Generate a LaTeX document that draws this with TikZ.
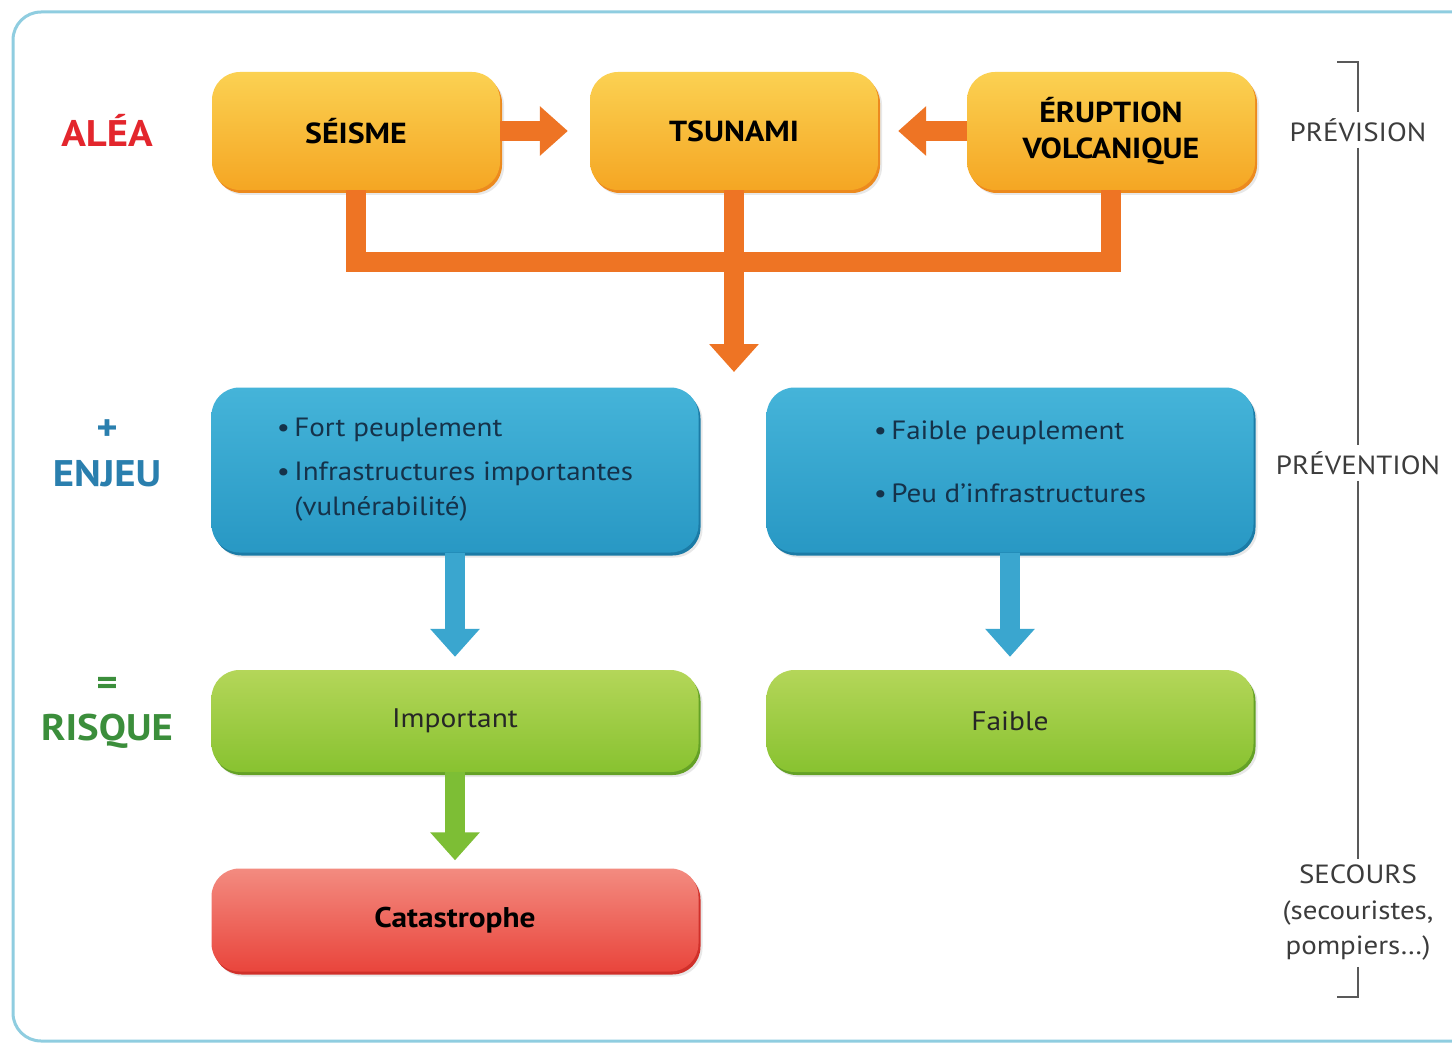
\documentclass[tikz,border=0pt]{standalone}
\usepackage{fontspec}
\setmainfont{PT Sans}[FakeStretch=1.1]
\usetikzlibrary{arrows.meta,shadows}
\definecolor{oTop}{HTML}{FBD152}
\definecolor{oBot}{HTML}{F5A623}
\definecolor{oEdge}{HTML}{EC8A1E}
\definecolor{oArr}{HTML}{EE7424}
\definecolor{bTop}{HTML}{45B4D9}
\definecolor{bBot}{HTML}{2898C4}
\definecolor{bEdge}{HTML}{1B7BA6}
\definecolor{bArr}{HTML}{3AA6CF}
\definecolor{gTop}{HTML}{B4D659}
\definecolor{gBot}{HTML}{88C230}
\definecolor{gEdge}{HTML}{64A126}
\definecolor{gArr}{HTML}{7DBE35}
\definecolor{rTop}{HTML}{F38B80}
\definecolor{rBot}{HTML}{E9453C}
\definecolor{rEdge}{HTML}{D0302A}
\definecolor{frameC}{HTML}{8FCDE0}
\definecolor{aleaC}{HTML}{E3262D}
\definecolor{enjeuC}{HTML}{2A7FAE}
\definecolor{risqueC}{HTML}{3B8E3B}
\definecolor{grayT}{HTML}{3C3C3C}
\definecolor{navyT}{HTML}{15324A}
\begin{document}
\begin{tikzpicture}[x=1pt,y=-1pt,
  box/.style={rounded corners=28pt, inner sep=0pt, align=center,
    drop shadow={opacity=0.18, shadow xshift=4pt, shadow yshift=-5pt}},
  obox/.style={box, minimum width=288pt, minimum height=118pt,
    top color=oTop, bottom color=oBot,
    preaction={fill=oEdge, transform canvas={xshift=2pt,yshift=-3pt}},
    font=\bfseries\fontsize{29}{36}\selectfont, text=black},
  bbox/.style={box, minimum width=487pt, minimum height=165pt,
    top color=bTop, bottom color=bBot,
    preaction={fill=bEdge, transform canvas={xshift=2pt,yshift=-3pt}},
    font=\fontsize{26.4}{35}\selectfont, text=navyT, align=left},
  gbox/.style={box, minimum width=487pt, minimum height=102pt,
    top color=gTop, bottom color=gBot,
    preaction={fill=gEdge, transform canvas={xshift=2pt,yshift=-3pt}},
    font=\fontsize{26.8}{30}\selectfont, text=black!85},
  rbox/.style={box, minimum width=487pt, minimum height=103pt,
    top color=rTop, bottom color=rBot,
    preaction={fill=rEdge, transform canvas={xshift=2pt,yshift=-3pt}},
    font=\bfseries\fontsize{28.5}{30}\selectfont, text=black},
  fatarrow/.style={line width=20pt, -{Triangle[width=48pt,length=28pt]}},
  oarrow/.style={fatarrow, draw=oArr},
  obar/.style={line width=20pt, draw=oArr, line join=miter},
  barrow/.style={fatarrow, draw=bArr},
  garrow/.style={fatarrow, draw=gArr},
  lbl/.style={font=\bfseries\fontsize{37}{40}\selectfont},
  sidetxt/.style={font=\fontsize{26.3}{35.5}\selectfont, text=grayT, align=center, inner sep=6pt},
  brk/.style={draw=grayT!85, line width=2pt}
]
\useasboundingbox (0,0) rectangle (1452,1046);
\clip (0,0) rectangle (1452,1046);
\fill[white] (0,0) rectangle (1452,1046);
\draw[draw=frameC, line width=3pt, rounded corners=28pt] (13,12) rectangle (1500,1041);

% left labels
\node[lbl, text=aleaC] (alea) at (107,130) {ALÉA};
\node[lbl, text=enjeuC] (plus) at (107,430) {+};
\node[lbl, text=enjeuC] (enjeu) at (107,474) {ENJEU};
\node[lbl, text=risqueC] (egal) at (107,686) {=};
\node[lbl, text=risqueC] (risque) at (107,731) {RISQUE};

% top row
\node[obox] (seisme) at (356,131) {SÉISME};
\node[obox] (tsunami) at (734,131) {TSUNAMI};
\node[obox] (eruption) at (1111,131) {ÉRUPTION\\VOLCANIQUE};

% enjeu boxes
\node[bbox] (enjeuL) at (455,470) {•\,Fort peuplement\\[9pt]•\,Infrastructures importantes\\\phantom{•\,}(vulnérabilité)};
\node[bbox] (enjeuR) at (1010,470) {•\,Faible peuplement\\[28pt]•\,Peu d’infrastructures\\[-19pt]\mbox{}};

% risque boxes
\node[gbox] (risqueL) at (455,721) {Important};
\node[gbox] (risqueR) at (1010,721) {Faible};

% catastrophe
\node[rbox] (catas) at (455,920) {Catastrophe};

% orange connectors
\coordinate (busL) at (356,262);
\coordinate (busR) at (1111,262);
\coordinate (tsuTip) at (734,372);
\draw[obar] (seisme.south) -- (busL) -- (busR) -- (eruption.south);
\draw[oarrow] (tsunami.south) -- (tsuTip);
\draw[oarrow, shorten >=22pt] (seisme.east) -- (tsunami.west);
\draw[oarrow, shorten >=20pt] (eruption.west) -- (tsunami.east);

% blue and green connectors
\draw[barrow, shorten >=13pt] (enjeuL.south) -- (risqueL.north);
\draw[barrow, shorten >=13pt] (enjeuR.south) -- (risqueR.north);
\draw[garrow, shorten >=8pt] (risqueL.south) -- (catas.north);

% right bracket
\node[sidetxt] (prevision) at (1358,130) {PRÉVISION};
\node[sidetxt] (prevention) at (1358,463) {PRÉVENTION};
\node[sidetxt] (secours) at (1358,913) {SECOURS\\(secouristes,\\pompiers…)};
\coordinate (brTop) at (1358,62);
\coordinate (brTopL) at (1337,62);
\coordinate (brBot) at (1358,997);
\coordinate (brBotL) at (1337,997);
\draw[brk] (brTopL) -- (brTop) -- (prevision.north);
\draw[brk] (prevision.south) -- (prevention.north);
\draw[brk] (prevention.south) -- (secours.north);
\draw[brk] (secours.south) -- (brBot) -- (brBotL);
\end{tikzpicture}
\end{document}
